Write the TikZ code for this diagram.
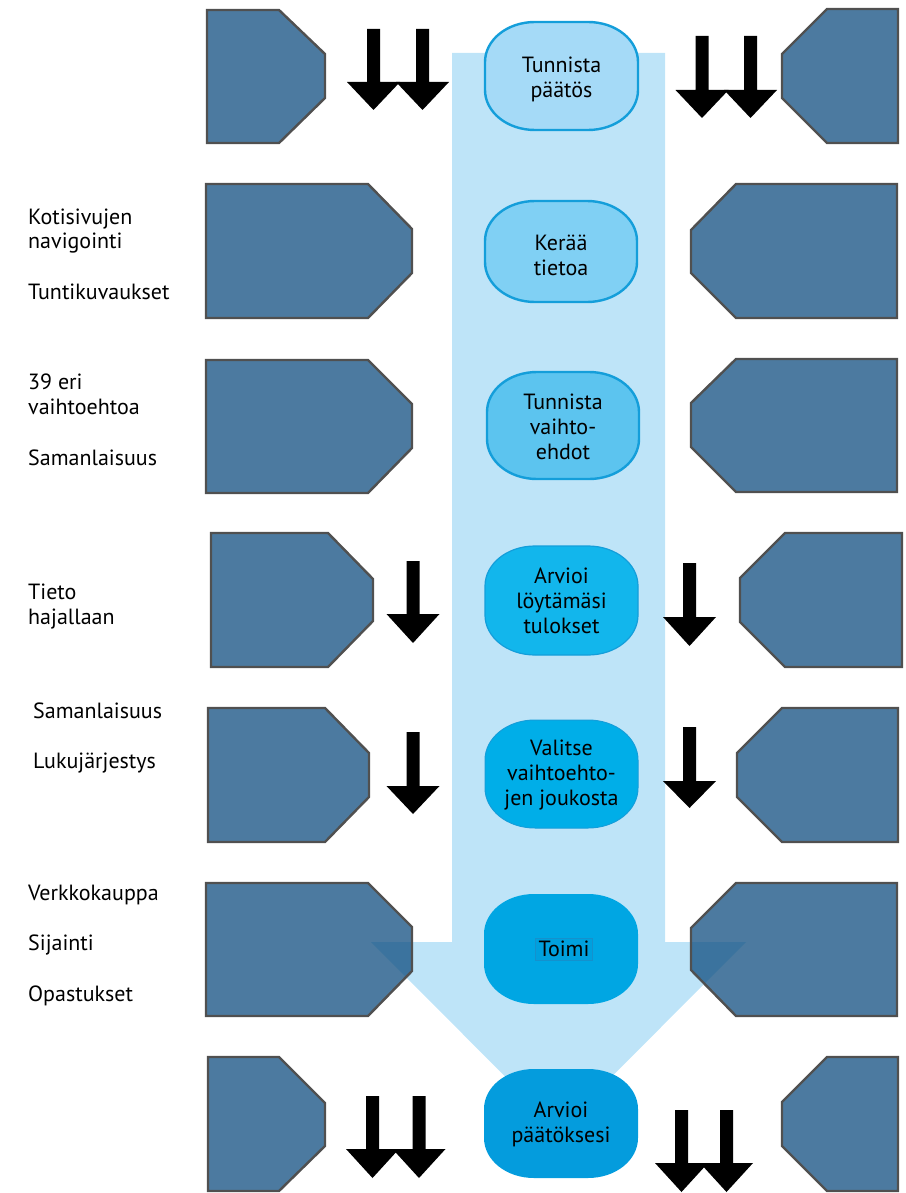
\documentclass[tikz,border=0pt]{standalone}
\usepackage{fontspec}
\setmainfont{PT Sans}
\definecolor{bgarrow}{RGB}{190,228,248}
\definecolor{polyfill}{RGB}{16,78,128}
\definecolor{polyline}{RGB}{80,80,80}
\definecolor{bordblue}{RGB}{20,158,218}
\definecolor{fA}{RGB}{165,218,247}
\definecolor{fB}{RGB}{128,208,244}
\definecolor{fC}{RGB}{92,196,239}
\definecolor{fD}{RGB}{18,182,236}
\definecolor{fE}{RGB}{0,174,232}
\definecolor{fF}{RGB}{0,166,227}
\definecolor{fG}{RGB}{4,156,221}
\newcommand\pillbox[6]{%
  \path[#6] ({#2+50},#3) -- ({#4-50},#3)
    .. controls ({#4-22},#3) and (#4,{#3+18}) .. (#4,{#3+40})
    -- (#4,{#5-40})
    .. controls (#4,{#5-18}) and ({#4-22},#5) .. ({#4-50},#5)
    -- ({#2+50},#5)
    .. controls ({#2+22},#5) and (#2,{#5-18}) .. (#2,{#5-40})
    -- (#2,{#3+40})
    .. controls (#2,{#3+18}) and ({#2+22},#3) .. ({#2+50},#3) -- cycle;
  \coordinate (#1) at ({(#2+#4)/2},{(#3+#5)/2});
}
\newcommand\blockarrow[4]{% cx, top, head base, tip
  \fill[black] ({#1-6.5},#2) -- ({#1+6.5},#2) -- ({#1+6.5},#3) -- ({#1+26.5},#3)
    -- (#1,#4) -- ({#1-26.5},#3) -- ({#1-6.5},#3) -- cycle;
}
\tikzset{
  poly/.style={fill=polyfill, fill opacity=0.75, draw=polyline, line width=2.4pt, line join=miter},
  boxtext/.style={align=center, font=\fontsize{22}{25}\selectfont, text=black, inner sep=0pt},
  sidetext/.style={anchor=base west, font=\fontsize{22}{25}\selectfont, text=black, inner sep=0pt},
}
\begin{document}
\begin{tikzpicture}[x=1pt,y=-1pt]
\useasboundingbox (0,0) rectangle (905,1193);
% background arrow
\fill[bgarrow] (452,53) -- (665,53) -- (665,942) -- (746,942) -- (558.5,1130) -- (371,942) -- (452,942) -- cycle;

% dark polygons, left
\path[poly] (207,10) -- (279,10) -- (325,54) -- (325,98) -- (279,143) -- (207,143) -- cycle;
\path[poly] (206,184) -- (368,184) -- (412,229) -- (412,273) -- (368,318) -- (206,318) -- cycle;
\path[poly] (206,360) -- (368,360) -- (412,404) -- (412,448) -- (368,493) -- (206,493) -- cycle;
\path[poly] (211,533) -- (328,533) -- (373,579) -- (373,621) -- (328,667) -- (211,667) -- cycle;
\path[poly] (208,708) -- (325,708) -- (369,753) -- (369,797) -- (325,842) -- (208,842) -- cycle;
\path[poly] (206,883) -- (368,883) -- (412,927) -- (412,971) -- (368,1016) -- (206,1016) -- cycle;
\path[poly] (208,1057) -- (279,1057) -- (325,1103) -- (325,1146) -- (279,1191) -- (208,1191) -- cycle;
% dark polygons, right
\path[poly] (827,9) -- (898,9) -- (898,143) -- (827,143) -- (782,98) -- (782,54) -- cycle;
\path[poly] (736,184) -- (897,184) -- (897,318) -- (736,318) -- (691,273) -- (691,230) -- cycle;
\path[poly] (736,359) -- (897,359) -- (897,492) -- (736,492) -- (691,447) -- (691,403) -- cycle;
\path[poly] (785,533) -- (902,533) -- (902,667) -- (785,667) -- (740,622) -- (740,578) -- cycle;
\path[poly] (782,708) -- (898,708) -- (898,842) -- (782,842) -- (737,797) -- (737,753) -- cycle;
\path[poly] (736,883) -- (897,883) -- (897,1016) -- (736,1016) -- (691,970) -- (691,928) -- cycle;
\path[poly] (827,1057) -- (898,1057) -- (898,1191) -- (827,1191) -- (782,1146) -- (782,1102) -- cycle;

% black block arrows
\blockarrow{373.5}{29}{82}{110}
\blockarrow{422.5}{29}{82}{110}
\blockarrow{702}{36}{90}{118}
\blockarrow{750.5}{36}{90}{118}
\blockarrow{413}{561}{614}{643}
\blockarrow{413}{732}{786}{814}
\blockarrow{689.5}{563}{617}{646}
\blockarrow{689.5}{727}{781}{808}
\blockarrow{372.5}{1096}{1149}{1178}
\blockarrow{419}{1096}{1149}{1178}
\blockarrow{681.5}{1110}{1163}{1192}
\blockarrow{726.5}{1110}{1163}{1192}

% rounded step boxes
\pillbox{b1}{485}{22}{638}{130}{fill=fA, draw=bordblue, line width=2.4pt}
\pillbox{b2}{485}{201}{637}{302}{fill=fB, draw=bordblue, line width=2.4pt}
\pillbox{b3}{487}{372}{639}{479}{fill=fC, draw=bordblue, line width=2.4pt}
\pillbox{b4}{485}{546}{638}{655}{fill=fD, draw=bordblue, line width=1.2pt}
\pillbox{b5}{485}{720}{638}{828}{fill=fE, draw=bordblue, line width=1pt}
\pillbox{b6}{484}{894}{638}{1004}{fill=fF}
\pillbox{b7}{484}{1069}{638}{1178}{fill=fG}

\node[boxtext] (t1) at (561.5,79) {Tunnista\\päätös};
\node[boxtext] (t2) at (561,255) {Kerää\\tietoa};
\node[boxtext] (t3) at (563,427) {Tunnista\\vaihto-\\ehdot};
\node[boxtext] (t4) at (561.5,601) {Arvioi\\löytämäsi\\tulokset};
\node[boxtext] (t5) at (561.5,775) {Valitse\\vaihtoehto-\\jen joukosta};
\node[boxtext, inner xsep=3pt, inner ysep=3pt, fill={rgb,255:red,0;green,160;blue,222}, draw={rgb,255:red,20;green,145;blue,205}, line width=0.4pt] (t6) at (564,949) {Toimi};
\node[boxtext] (t7) at (561,1124) {Arvioi\\päätöksesi};

% side labels
\node[sidetext] (l1) at (28,224) {Kotisivujen};
\node[sidetext] (l2) at (28,248) {navigointi};
\node[sidetext] (l3) at (28,299) {Tuntikuvaukset};
\node[sidetext] (l4) at (28,389) {39 eri};
\node[sidetext] (l5) at (28,414) {vaihtoehtoa};
\node[sidetext] (l6) at (28,465) {Samanlaisuus};
\node[sidetext] (l7) at (28,599) {Tieto};
\node[sidetext] (l8) at (28,624) {hajallaan};
\node[sidetext] (l9) at (33,718) {Samanlaisuus};
\node[sidetext] (l10) at (33,768) {Lukujärjestys};
\node[sidetext] (l11) at (28,900) {Verkkokauppa};
\node[sidetext] (l12) at (28,950) {Sijainti};
\node[sidetext] (l13) at (28,1001) {Opastukset};
\end{tikzpicture}
\end{document}
